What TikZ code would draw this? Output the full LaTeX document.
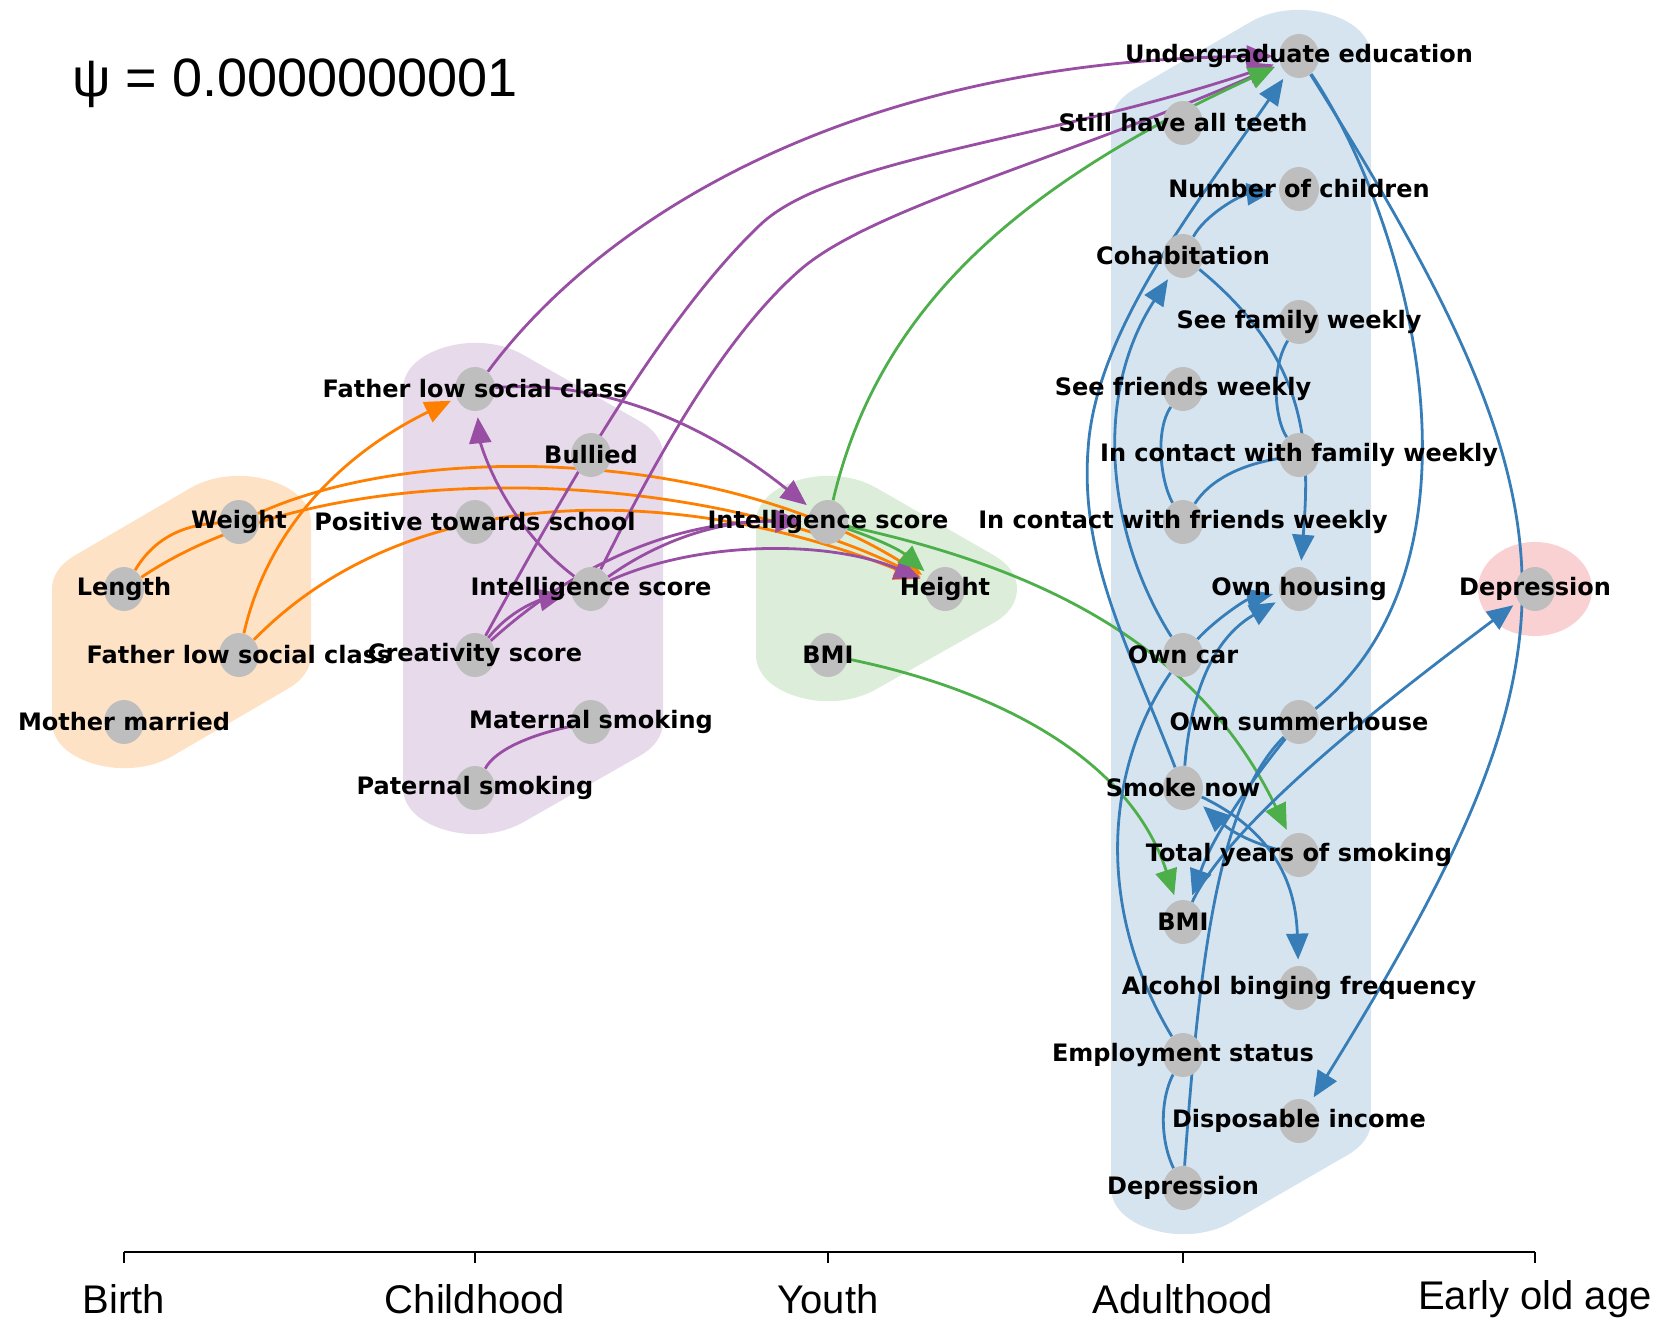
\documentclass[tikz,border=0pt]{standalone}
\usepackage{fontspec}
\setmainfont{Liberation Sans}
\newfontfamily\lblfont{DejaVu Sans}
\usetikzlibrary{shapes.geometric,arrows.meta}
\pgfdeclarelayer{hull}
\pgfdeclarelayer{edges}
\pgfsetlayers{hull,edges,main}
\definecolor{ora}{HTML}{FF7F00}
\definecolor{pur}{HTML}{984EA3}
\definecolor{grn}{HTML}{4DAF4A}
\definecolor{blu}{HTML}{377EB8}
\definecolor{hora}{HTML}{FEE2C6}
\definecolor{hpur}{HTML}{E7DAEB}
\definecolor{hgrn}{HTML}{DCEEDA}
\definecolor{hblu}{HTML}{D6E4F0}
\definecolor{hred}{HTML}{F9D1D3}
\definecolor{vgrey}{HTML}{BEBEBE}
\begin{document}
\begin{tikzpicture}[x=0.5pt,y=-0.5pt,
  vert/.style={ellipse,fill=vgrey,minimum width=20pt,minimum height=22pt,inner sep=0pt},
  lbl/.style={font=\lblfont\bfseries\fontsize{12}{14}\selectfont,inner sep=0pt},
  lnk/.style={line width=1.4pt},
  arr/.style={lnk,-{Triangle[length=13pt,width=11pt]},shorten >=3pt},
  tier/.style={font=\fontsize{20}{24}\selectfont,inner sep=0pt}]
\useasboundingbox (0,0) rectangle (1660,1321);
\node[anchor=west,inner sep=0pt,font=\fontsize{27}{32}\selectfont] (psi) at (72,83) {ψ = 0.0000000001};
\node[vert,label={[lbl]center:Length}] (len) at (124,589) {};
\node[vert,label={[lbl]center:Weight}] (wgt) at (239,522) {};
\node[vert,label={[lbl]center:Father low social class}] (flb) at (239,655) {};
\node[vert,label={[lbl]center:Mother married}] (mom) at (124,722) {};
\node[vert,label={[lbl]center:Father low social class}] (flc) at (475,389) {};
\node[vert,label={[lbl]center:Bullied}] (bul) at (591,455) {};
\node[vert,label={[lbl]center:Positive towards school}] (pts) at (475,522) {};
\node[vert,label={[lbl]center:Intelligence score}] (intc) at (591,589) {};
\node[vert,label={[lbl]center:Creativity score}] (cre) at (475,655) {};
\node[vert,label={[lbl]center:Maternal smoking}] (mat) at (591,722) {};
\node[vert,label={[lbl]center:Paternal smoking}] (pat) at (475,788) {};
\node[vert,label={[lbl]center:Intelligence score}] (inty) at (828,522) {};
\node[vert,label={[lbl]center:Height}] (hgt) at (945,589) {};
\node[vert,label={[lbl]center:BMI}] (bmiy) at (828,655) {};
\node[vert,label={[lbl]center:Undergraduate education}] (edu) at (1299,56) {};
\node[vert,label={[lbl]center:Still have all teeth}] (tee) at (1183,123) {};
\node[vert,label={[lbl]center:Number of children}] (kid) at (1299,189) {};
\node[vert,label={[lbl]center:Cohabitation}] (coh) at (1183,256) {};
\node[vert,label={[lbl]center:See family weekly}] (sfam) at (1299,322) {};
\node[vert,label={[lbl]center:See friends weekly}] (sfri) at (1183,389) {};
\node[vert,label={[lbl]center:In contact with family weekly}] (cfam) at (1299,455) {};
\node[vert,label={[lbl]center:In contact with friends weekly}] (cfri) at (1183,522) {};
\node[vert,label={[lbl]center:Own housing}] (hou) at (1299,589) {};
\node[vert,label={[lbl]center:Own car}] (car) at (1183,655) {};
\node[vert,label={[lbl]center:Own summerhouse}] (sum) at (1299,722) {};
\node[vert,label={[lbl]center:Smoke now}] (smk) at (1183,788) {};
\node[vert,label={[lbl]center:Total years of smoking}] (tys) at (1299,855) {};
\node[vert,label={[lbl]center:BMI}] (bmia) at (1183,922) {};
\node[vert,label={[lbl]center:Alcohol binging frequency}] (alc) at (1299,988) {};
\node[vert,label={[lbl]center:Employment status}] (emp) at (1183,1055) {};
\node[vert,label={[lbl]center:Disposable income}] (inc) at (1299,1121) {};
\node[vert,label={[lbl]center:Depression}] (depa) at (1183,1188) {};
\node[vert,label={[lbl]center:Depression}] (depo) at (1535,589) {};
\begin{pgfonlayer}{hull}
\begin{scope}[y=-0.7825pt,transform canvas={yscale=0.639},line width=72pt,line join=round]
\filldraw[hora] (124,589) -- (239,522) -- (239,655) -- (124,722) -- cycle;
\filldraw[hpur] (475,389) -- (591,455) -- (591,722) -- (475,788) -- cycle;
\filldraw[hgrn] (828,522) -- (945,589) -- (828,655) -- cycle;
\filldraw[hblu] (1299,56) -- (1299,1121) -- (1183,1188) -- (1183,123) -- cycle;
\end{scope}
\fill[hred] (1535,589) ellipse [x radius=28.5pt,y radius=23.5pt];
\end{pgfonlayer}
\begin{pgfonlayer}{edges}
\draw[lnk,ora] (len) .. controls (150,545) and (175,525) .. (wgt);
\draw[arr,ora] (len) .. controls (330,450) and (700,470) .. (hgt);
\draw[arr,ora] (wgt) .. controls (420,440) and (720,450) .. (hgt);
\draw[arr,ora] (flb) .. controls (420,470) and (700,490) .. (hgt);
\draw[arr,ora] (flb) .. controls (265,540) and (330,460) .. (flc);
\draw[arr,pur] (flc) .. controls (600,220) and (850,60) .. (edu);
\draw[arr,pur] (flc) .. controls (600,380) and (700,420) .. (inty);
\draw[arr,pur] (intc) .. controls (500,520) and (480,440) .. (flc);
\draw[arr,pur] (cre) .. controls (560,500) and (660,320) .. (760,225) .. controls (830,158) and (1050,140) .. (edu);
\draw[arr,pur] (intc) .. controls (650,470) and (720,340) .. (800,270) .. controls (870,209) and (1060,160) .. (edu);
\draw[arr,pur] (cre) .. controls (510,610) and (540,600) .. (intc);
\draw[arr,pur] (cre) .. controls (580,560) and (680,520) .. (inty);
\draw[arr,pur] (intc) .. controls (660,540) and (720,520) .. (inty);
\draw[arr,pur] (intc) .. controls (700,540) and (830,540) .. (hgt);
\draw[lnk,pur] (pat) .. controls (495,750) and (530,735) .. (mat);
\draw[arr,grn] (inty) .. controls (880,300) and (1030,180) .. (edu);
\draw[arr,grn] (inty) .. controls (880,540) and (900,550) .. (hgt);
\draw[arr,grn] (inty) .. controls (1050,570) and (1200,650) .. (tys);
\draw[arr,grn] (bmiy) .. controls (1000,690) and (1130,760) .. (bmia);
\draw[arr,blu] (smk) .. controls (1130,650) and (1080,560) .. (1088,450) .. controls (1095,330) and (1200,200) .. (edu);
\draw[lnk,blu] (edu) .. controls (1410,220) and (1500,560) .. (sum);
\draw[arr,blu] (edu) .. controls (1590,520) and (1590,650) .. (inc);
\draw[arr,blu] (coh) .. controls (1205,215) and (1240,195) .. (kid);
\draw[arr,blu] (car) .. controls (1110,540) and (1090,400) .. (coh);
\draw[arr,blu] (coh) .. controls (1310,360) and (1310,450) .. (hou);
\draw[lnk,blu] (sfam) .. controls (1270,370) and (1275,420) .. (cfam);
\draw[lnk,blu] (sfri) .. controls (1155,430) and (1160,480) .. (cfri);
\draw[lnk,blu] (cfam) .. controls (1240,465) and (1210,480) .. (cfri);
\draw[arr,blu] (car) .. controls (1215,620) and (1245,600) .. (hou);
\draw[arr,blu] (smk) .. controls (1190,700) and (1210,640) .. (hou);
\draw[arr,blu] (tys) .. controls (1260,845) and (1235,835) .. (smk);
\draw[arr,blu] (smk) .. controls (1250,820) and (1295,860) .. (alc);
\draw[arr,blu] (sum) .. controls (1260,770) and (1215,830) .. (bmia);
\draw[arr,blu] (bmia) .. controls (1230,820) and (1400,690) .. (depo);
\draw[lnk,blu] (car) .. controls (1110,760) and (1090,900) .. (emp);
\draw[lnk,blu] (emp) .. controls (1160,1100) and (1160,1140) .. (depa);
\draw[lnk,blu] (sum) .. controls (1220,800) and (1200,950) .. (depa);
\end{pgfonlayer}
\draw[line width=0.8pt] (124,1252) -- (1535,1252);
\foreach \x in {124,475,828,1183,1535} \draw[line width=0.8pt] (\x,1252) -- (\x,1263);
\node[tier] (tb) at (124,1299) {Birth};
\node[tier] (tc) at (475,1299) {Childhood};
\node[tier] (ty) at (828,1299) {Youth};
\node[tier] (ta) at (1183,1299) {Adulthood};
\node[tier] (te) at (1535,1299) {Early old age};
\end{tikzpicture}
\end{document}
